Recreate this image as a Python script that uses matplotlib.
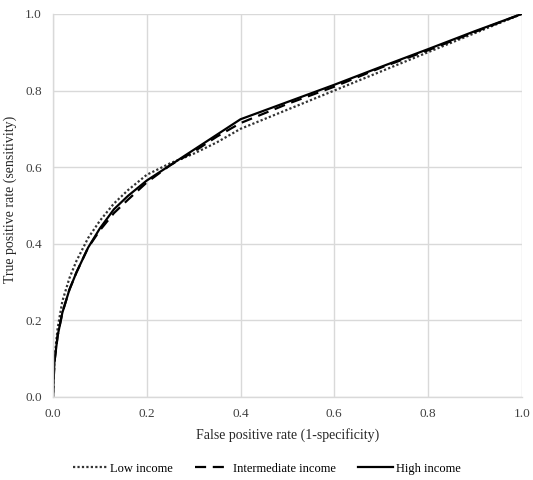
import matplotlib.pyplot as plt

plt.rcParams['font.family'] = ['Liberation Serif', 'DejaVu Serif']

# ROC curves
fpr_low = [0.0, 0.003, 0.01, 0.02, 0.035, 0.05, 0.075, 0.1, 0.13, 0.16, 0.2, 0.25, 0.3, 0.35, 0.4, 0.5, 0.6, 0.7, 0.8, 0.9, 1.0]
tpr_low = [0.0, 0.10, 0.18, 0.25, 0.31, 0.355, 0.415, 0.46, 0.505, 0.54, 0.58, 0.61, 0.635, 0.665, 0.70, 0.75, 0.80, 0.85, 0.90, 0.95, 1.0]

fpr_mid = [0.0, 0.003, 0.01, 0.02, 0.035, 0.05, 0.075, 0.1, 0.13, 0.16, 0.2, 0.25, 0.3, 0.35, 0.4, 0.5, 0.6, 0.7, 0.8, 0.9, 1.0]
tpr_mid = [0.0, 0.09, 0.16, 0.22, 0.28, 0.325, 0.39, 0.435, 0.48, 0.515, 0.56, 0.605, 0.64, 0.68, 0.715, 0.765, 0.81, 0.86, 0.905, 0.953, 1.0]

fpr_high = [0.0, 0.003, 0.01, 0.02, 0.035, 0.05, 0.075, 0.1, 0.13, 0.16, 0.2, 0.25, 0.3, 0.35, 0.4, 0.5, 0.6, 0.7, 0.8, 0.9, 1.0]
tpr_high = [0.0, 0.09, 0.16, 0.22, 0.28, 0.325, 0.39, 0.44, 0.49, 0.525, 0.565, 0.605, 0.645, 0.685, 0.725, 0.77, 0.815, 0.862, 0.908, 0.955, 1.0]

ticks = [0.0, 0.2, 0.4, 0.6, 0.8, 1.0]

fig = plt.figure(figsize=(5.33, 4.80), dpi=100)
ax = fig.add_axes([0.0994, 0.173, 0.8796, 0.798])

ax.plot(fpr_low, tpr_low, color='#333333', linestyle=(0, (1, 1)), linewidth=1.6, label='Low income')
ax.plot(fpr_mid, tpr_mid, color='black', linestyle=(0, (5, 3)), linewidth=1.6, label='Intermediate income')
ax.plot(fpr_high, tpr_high, color='black', linestyle='-', linewidth=1.6, label='High income')

ax.set_xlim(0, 1)
ax.set_ylim(0, 1)
ax.set_xticks(ticks)
ax.set_yticks(ticks)
ax.set_xticklabels([f'{t:.1f}' for t in ticks], fontsize=9.5, color='#404040')
ax.set_yticklabels([f'{t:.1f}' for t in ticks], fontsize=9.5, color='#404040')
ax.tick_params(length=0, pad=8)
ax.grid(True, color='#d9d9d9', linewidth=1)
ax.set_axisbelow(True)
for side in ['top', 'right']:
    ax.spines[side].set_visible(False)
for side in ['left', 'bottom']:
    ax.spines[side].set_color('#d9d9d9')
    ax.spines[side].set_linewidth(1)

ax.set_xlabel('False positive rate (1-specificity)', fontsize=10, color='#262626', labelpad=6)
ax.set_ylabel('True positive rate (sensitivity)', fontsize=10, color='#262626')
ax.yaxis.set_label_coords(-0.077, 0.515)

fig.legend(loc='lower center', bbox_to_anchor=(0.5, -0.012), ncol=3, frameon=False,
           fontsize=9, handlelength=2.8, handletextpad=0.2, columnspacing=1.8)

fig.savefig('out.png', dpi=100)
